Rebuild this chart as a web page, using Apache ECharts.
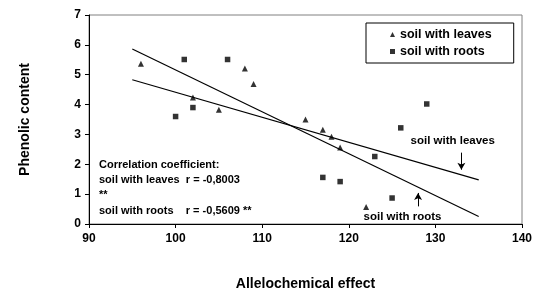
<!DOCTYPE html>
<html>
<head>
<meta charset="utf-8">
<title>Phenolic content vs allelochemical effect</title>
<script src="https://cdn.jsdelivr.net/npm/echarts@6/dist/echarts.min.js"></script>
<style>
    html, body { margin: 0; padding: 0; background: #fff; }
    #main { width: 535px; height: 293px; }
</style>
</head>
<body>
<div id="main"></div>
<script>
// measured points
const leavesX = [96, 102, 105, 108, 109, 115, 117, 118, 119, 122];
const leavesY = [5.37, 4.24, 3.83, 5.21, 4.69, 3.50, 3.16, 2.92, 2.56, 0.57];
const rootsX = [100, 101, 102, 106, 117, 119, 123, 125, 126, 129];
const rootsY = [3.60, 5.51, 3.90, 5.51, 1.56, 1.42, 2.26, 0.87, 3.22, 4.02];

// the two trend lines (ends)
const trendX = [95, 135];
const steepY = [5.86, 0.25];
const flatY = [4.83, 1.48];

// arrow labels at the right
const noteText = ['soil with leaves', 'soil with roots'];
const noteX = [132, 126.2];
const noteY = [2.8, 0.25];
const arrowX = [133, 128];
const arrowFrom = [2.39, 0.59];
const arrowTo = [1.82, 1.04];

const corrLines = [
    'Correlation coefficient:',
    'soil with leaves  r = -0,8003',
    '**',
    'soil with roots    r = -0,5609 **'
];

const FONT = 'Liberation Sans, Arial, sans-serif';
const chart = echarts.init(document.getElementById('main'));

const pair = (xs, ys) => xs.map((x, i) => [x, ys[i]]);

chart.setOption({
    animation: false,
    backgroundColor: '#fff',
    grid: {
        left: 89, right: 13, top: 15, bottom: 69,
        outerBoundsMode: 'none',
        show: true, borderColor: '#808080', borderWidth: 1
    },
    legend: {
        data: [
            { name: 'soil with leaves', icon: 'triangle' },
            { name: 'soil with roots', icon: 'rect' }
        ],
        orient: 'vertical',
        left: 366, top: 23,
        padding: [5, 22, 5, 24],
        itemWidth: 5, itemHeight: 5,
        itemGap: 4,
        borderColor: '#000', borderWidth: 1,
        textStyle: { color: '#000', fontFamily: FONT, fontWeight: 'bold', fontSize: 12.5 }
    },
    xAxis: {
        type: 'value', min: 90, max: 140, interval: 10,
        name: 'Allelochemical effect', nameLocation: 'middle', nameGap: 53,
        nameTextStyle: { color: '#000', fontFamily: FONT, fontWeight: 'bold', fontSize: 14 },
        axisLine: { show: true, lineStyle: { color: '#000', width: 1 } },
        axisTick: { show: true, inside: false, length: 4, lineStyle: { color: '#000' } },
        axisLabel: { color: '#000', fontFamily: FONT, fontWeight: 'bold', fontSize: 12, margin: 9 },
        splitLine: { show: false }
    },
    yAxis: {
        type: 'value', min: 0, max: 7, interval: 1,
        name: 'Phenolic content', nameLocation: 'middle', nameGap: 57, nameRotate: 90,
        nameTextStyle: { color: '#000', fontFamily: FONT, fontWeight: 'bold', fontSize: 14 },
        axisLine: { show: true, lineStyle: { color: '#000', width: 1 } },
        axisTick: { show: true, inside: false, length: 4, lineStyle: { color: '#000' } },
        axisLabel: { color: '#000', fontFamily: FONT, fontWeight: 'bold', fontSize: 12, margin: 8 },
        splitLine: { show: false }
    },
    series: [
        {
            name: 'soil with leaves', type: 'scatter',
            symbol: 'triangle', symbolSize: 6,
            itemStyle: { color: '#000' },
            data: pair(leavesX, leavesY)
        },
        {
            name: 'soil with roots', type: 'scatter',
            symbol: 'rect', symbolSize: 5.5,
            itemStyle: { color: '#000' },
            data: pair(rootsX, rootsY)
        },
        {
            name: 'trend 1', type: 'line', symbol: 'none',
            lineStyle: { color: '#000', width: 1.2 },
            data: pair(trendX, steepY)
        },
        {
            name: 'trend 2', type: 'line', symbol: 'none',
            lineStyle: { color: '#000', width: 1.2 },
            data: pair(trendX, flatY),
            markLine: {
                silent: true,
                symbol: ['none', 'arrow'], symbolSize: [6, 7],
                lineStyle: { color: '#000', width: 1, type: 'solid' },
                label: { show: false },
                data: arrowX.map((x, i) => [
                    { coord: [x, arrowFrom[i]] },
                    { coord: [x, arrowTo[i]] }
                ])
            },
            markPoint: {
                silent: true,
                symbol: 'circle', symbolSize: 0,
                label: {
                    show: true, position: 'inside', formatter: '{b}',
                    color: '#000', fontFamily: FONT, fontWeight: 'bold', fontSize: 11.5
                },
                data: noteText.map((t, i) => ({ name: t, coord: [noteX[i], noteY[i]] }))
            }
        }
    ],
    graphic: [{
        type: 'text', left: 99, top: 157,
        style: {
            text: corrLines.join('\n'),
            fill: '#000', font: 'bold 11px ' + FONT, lineHeight: 15.3
        }
    }]
});
</script>
</body>
</html>
